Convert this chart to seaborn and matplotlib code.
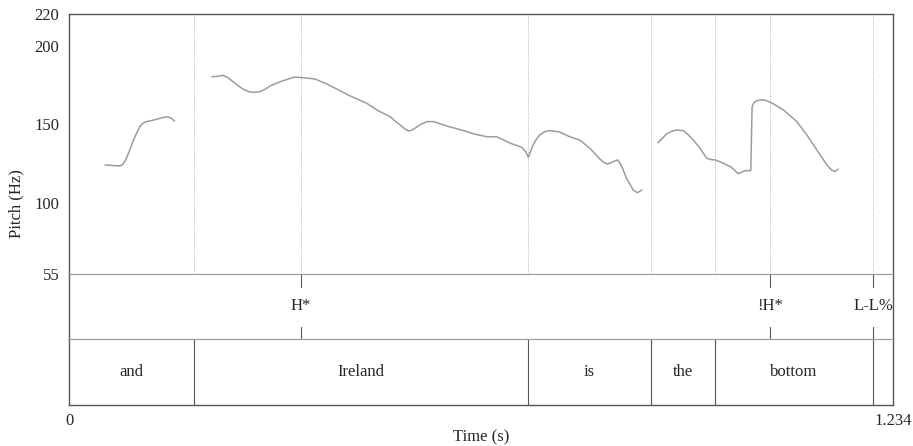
import numpy as np
import pandas as pd
import matplotlib
matplotlib.use("Agg")
import matplotlib.pyplot as plt
import seaborn as sns

sns.set_style("white")
plt.rcParams['font.family'] = ['Liberation Serif', 'DejaVu Serif']

# ---- data ----
seg1_t = [0.054, 0.066, 0.076, 0.080, 0.085, 0.089, 0.093, 0.097, 0.102, 0.106,
          0.111, 0.116, 0.124, 0.131, 0.139, 0.146, 0.152, 0.158]
seg1_f = [124.2, 123.8, 123.6, 124.3, 127.5, 131.6, 136.0, 140.5, 145.0, 148.5,
          150.8, 151.7, 152.4, 153.2, 154.1, 154.8, 154.2, 152.1]

seg2_t = [0.214, 0.222, 0.231, 0.238, 0.246, 0.254, 0.261, 0.269, 0.276, 0.286,
          0.294, 0.301, 0.316, 0.336, 0.346, 0.368, 0.385, 0.401, 0.421, 0.446,
          0.463, 0.481, 0.490, 0.496, 0.503, 0.508, 0.513, 0.518, 0.527, 0.536,
          0.546, 0.566, 0.591, 0.606, 0.626, 0.641, 0.661, 0.678, 0.684, 0.688,
          0.691, 0.695, 0.700, 0.705, 0.712, 0.720, 0.735, 0.750, 0.765, 0.780,
          0.795, 0.801, 0.806, 0.811, 0.815, 0.822, 0.828, 0.835, 0.845, 0.851,
          0.858]
seg2_f = [180.2, 180.4, 181.1, 179.5, 177.0, 174.3, 172.2, 170.8, 170.3, 170.7,
          172.3, 174.3, 177.0, 179.8, 179.8, 178.8, 175.8, 172.4, 168.0, 163.3,
          158.6, 154.8, 151.5, 149.6, 147.0, 145.8, 146.2, 147.5, 150.0, 151.7,
          151.7, 148.9, 146.0, 143.9, 142.1, 142.0, 138.0, 135.4, 132.5, 129.0,
          132.5, 136.9, 140.5, 143.2, 145.2, 146.0, 145.1, 142.1, 140.0, 134.8,
          128.0, 125.8, 124.8, 125.5, 126.3, 127.4, 123.1, 115.7, 108.3, 106.6,
          108.3]

seg3_t = [0.882, 0.889, 0.895, 0.903, 0.910, 0.920, 0.927, 0.935, 0.945, 0.955,
          0.962, 0.968, 0.980, 0.992, 1.002, 1.007, 1.012, 1.021, 1.023, 1.026,
          1.030, 1.036, 1.042, 1.052, 1.070, 1.090, 1.105, 1.120, 1.135, 1.142,
          1.147, 1.152]
seg3_f = [138.3, 141.3, 143.9, 145.6, 146.4, 146.0, 143.5, 140.0, 134.8, 128.4,
          127.6, 127.4, 125.3, 122.7, 118.7, 119.5, 120.6, 120.6, 161.2, 163.8,
          165.0, 165.5, 165.4, 163.7, 159.1, 151.7, 143.2, 133.7, 124.2, 121.0,
          120.0, 121.5]

word_bounds = [0.0, 0.187, 0.687, 0.872, 0.967, 1.204, 1.234]
word_labels = ["and", "Ireland", "is", "the", "bottom", ""]

tone_times = [0.347, 1.050, 1.204]
tone_labels = ["H*", "!H*", "L-L%"]

t_max = 1.234
y_ticks = [55, 100, 150, 200, 220]

df = pd.DataFrame({
    "t": seg1_t + seg2_t + seg3_t,
    "f0": seg1_f + seg2_f + seg3_f,
    "seg": [1] * len(seg1_t) + [2] * len(seg2_t) + [3] * len(seg3_t),
})

W, H = 913, 446
fig = plt.figure(figsize=(W / 100, H / 100), dpi=100)

def box(x0, y0, x1, y1):
    return [x0 / W, 1 - y1 / H, (x1 - x0) / W, (y1 - y0) / H]

L, R = 69, 893
ax = fig.add_axes(box(L, 14, R, 274))
ax1 = fig.add_axes(box(L, 274, R, 339))
ax2 = fig.add_axes(box(L, 339, R, 405))

frame = "#555555"
light = "#9a9a9a"
fs = 12

# pitch panel
sns.lineplot(data=df, x="t", y="f0", units="seg", estimator=None,
             color="#9c9c9c", linewidth=1.1, ax=ax, legend=False)
ax.set_xlim(0, t_max)
ax.set_ylim(55, 220)
ax.set_xlabel("")
ax.set_ylabel("")
ax.set_xticks([])
ax.set_yticks(y_ticks)
ax.set_yticklabels([str(v) for v in y_ticks], fontsize=fs)
ax.tick_params(axis="y", direction="out", length=5, width=0.8, color=frame, pad=2)
vlines = sorted(set(word_bounds[1:-1] + tone_times))
for v in vlines:
    ax.axvline(v, color="#b0b0b0", linestyle=(0, (1, 1.5)), linewidth=0.7, zorder=0)
for s in ["top", "left", "right"]:
    ax.spines[s].set_color(frame)
    ax.spines[s].set_linewidth(1.0)
ax.spines["bottom"].set_color(light)
ax.spines["bottom"].set_linewidth(0.8)

# tone tier
ax1.set_xlim(0, t_max)
ax1.set_ylim(0, 1)
ax1.set_xticks([])
ax1.set_yticks([])
for t, lab in zip(tone_times, tone_labels):
    ax1.plot([t, t], [0.8, 1.0], color=frame, linewidth=0.8)
    ax1.plot([t, t], [0.0, 0.19], color=frame, linewidth=0.8)
    ax1.text(t, 0.5, lab, ha="center", va="center", fontsize=fs)
for s in ["left", "right"]:
    ax1.spines[s].set_color(frame)
    ax1.spines[s].set_linewidth(1.0)
for s in ["top", "bottom"]:
    ax1.spines[s].set_color(light)
    ax1.spines[s].set_linewidth(0.8)

# word tier
ax2.set_xlim(0, t_max)
ax2.set_ylim(0, 1)
ax2.set_yticks([])
ax2.set_xticks([0, t_max])
ax2.set_xticklabels(["0", "1.234"], fontsize=fs)
ax2.tick_params(axis="x", direction="out", length=0, width=0.8, color=frame, pad=6)
for b in word_bounds[1:-1]:
    ax2.axvline(b, color=frame, linewidth=0.8)
for a, b, lab in zip(word_bounds[:-1], word_bounds[1:], word_labels):
    if lab:
        ax2.text((a + b) / 2, 0.5, lab, ha="center", va="center", fontsize=fs)
for s in ["left", "right", "bottom"]:
    ax2.spines[s].set_color(frame)
    ax2.spines[s].set_linewidth(1.0)
ax2.spines["top"].set_color(light)
ax2.spines["top"].set_linewidth(0.8)

fig.text((L + R) / 2 / W, 1 - 437 / H, "Time (s)", ha="center", va="center", fontsize=fs)
fig.text(16 / W, 1 - 204 / H, "Pitch (Hz)", ha="center", va="center",
         rotation=90, fontsize=fs)

fig.savefig("out.png", dpi=100)
